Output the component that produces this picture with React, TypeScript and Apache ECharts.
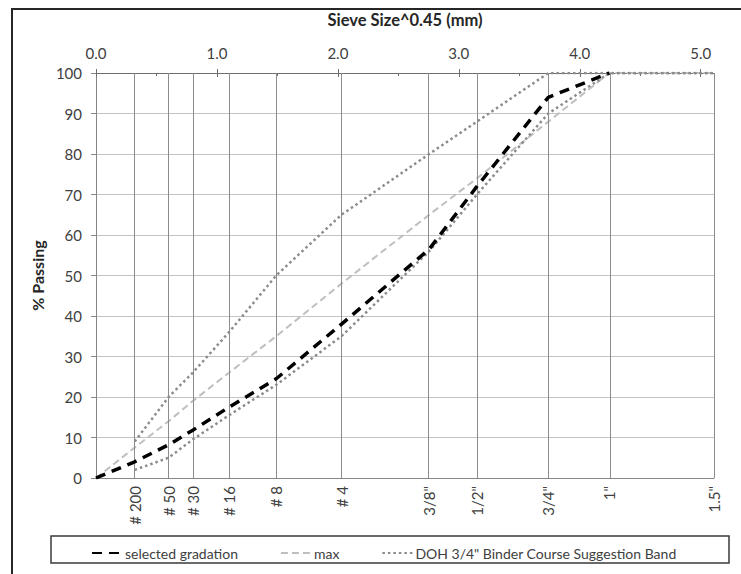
import React, { useEffect, useRef } from "react";
import * as echarts from "echarts";

// Sieve positions on the Sieve Size^0.45 scale, and their labels
const sieveLabels = ['# 200', '# 50', '# 30', '# 16', '# 8', '# 4', '3/8"', '1/2"', '3/4"', '1"', '1.5"'];
const sievePos = [0.32, 0.6, 0.8, 1.1, 1.49, 2.03, 2.755, 3.15, 3.74, 4.245, 5.11];

// Top axis tick labels
const topTicks = [0, 1, 2, 3, 4, 5];
const topMinorTicks = [0.5, 1.5, 2.5, 3.5, 4.5];

// Series values (% passing)
const originX = 0;
const selectedOrigin = 0;
const selectedValues = [4, 8.2, 11.8, 17.5, 24.5, 38, 56.5, 72, 94, 100];
const maxOrigin = 0;
const maxValues = [7.5, 14, 19, 26, 35, 48, 65, 74, 88, 100, 100];
const bandUpper = [9, 20, 26, 36, 50, 65, 80, 88, 100, 100, 100];
const bandLower = [2, 5, 9.5, 15.5, 23, 35, 56, 70, 90, 100, 100];

const SEL = "selected gradation";
const MAX = "max";
const BAND = 'DOH 3/4" Binder Course Suggestion Band';

const FONT = "Lato";

export default function App() {
  const ref = useRef<HTMLDivElement>(null);

  useEffect(() => {
    if (!ref.current) return;
    const chart = echarts.init(ref.current, undefined, { renderer: "svg" });

    const withOrigin = (ox: number, oy: number, vals: number[]) =>
      [[ox, oy] as number[]].concat(vals.map((v, i) => [sievePos[i], v]));
    const onSieves = (vals: number[]) => vals.map((v, i) => [sievePos[i], v]);

    const xMin = 0;
    const xMax = sievePos[sievePos.length - 1];

    const option: any = {
      animation: false,
      backgroundColor: "#ffffff",
      textStyle: { fontFamily: FONT },
      grid: { left: 96, right: 27, top: 73, bottom: 96, containLabel: false },
      legend: {
        data: [SEL, MAX, BAND],
        left: 86,
        top: 541,
        itemWidth: 30,
        itemHeight: 12,
        itemGap: 42,
        itemStyle: { opacity: 0 },
        textStyle: { fontFamily: FONT, fontSize: 14, color: "#404040", padding: [0, 0, 0, -2] },
        selectedMode: false,
      },
      graphic: [
        {
          type: "rect",
          shape: { x: 12, y: 9, width: 800, height: 700 },
          style: { fill: "none", stroke: "#262626", lineWidth: 2 },
          silent: true,
        },
        {
          type: "rect",
          shape: { x: 51, y: 536, width: 678, height: 27 },
          style: { fill: "none", stroke: "#3a3a3a", lineWidth: 1.5 },
          silent: true,
        },
      ],
      xAxis: [
        {
          type: "value",
          position: "bottom",
          min: xMin,
          max: xMax,
          axisLine: { show: true, lineStyle: { color: "#868686", width: 1 } },
          axisTick: { show: false },
          splitLine: { show: false },
          axisLabel: {
            customValues: sievePos,
            rotate: 90,
            margin: 8,
            interval: 0,
            hideOverlap: false,
            showMinLabel: true,
            showMaxLabel: true,
            fontFamily: FONT,
            fontSize: 15,
            color: "#404040",
            formatter: (v: number) => {
              const i = sievePos.findIndex((p) => Math.abs(p - v) < 1e-6);
              return i >= 0 ? sieveLabels[i] : "";
            },
          },
        },
        {
          type: "value",
          position: "top",
          min: xMin,
          max: xMax,
          name: "Sieve Size^0.45 (mm)",
          nameLocation: "middle",
          nameGap: 45,
          nameTextStyle: { fontFamily: FONT, fontSize: 16.5, fontWeight: "bold", color: "#262626" },
          axisLine: { show: true, lineStyle: { color: "#6e6e6e", width: 1 } },
          axisTick: { show: true, customValues: topTicks, length: 4, inside: false, lineStyle: { color: "#6e6e6e" } },
          splitLine: { show: false },
          axisLabel: {
            customValues: topTicks,
            margin: 13,
            fontFamily: FONT,
            fontSize: 15,
            color: "#404040",
            formatter: (v: number) => v.toFixed(1),
          },
        },
        {
          type: "value",
          position: "top",
          min: xMin,
          max: xMax,
          axisLine: { show: false },
          axisTick: { show: true, customValues: topTicks, length: 4, inside: true, lineStyle: { color: "#6e6e6e" } },
          axisLabel: { show: false },
          splitLine: { show: false },
        },
        {
          type: "value",
          position: "top",
          min: xMin,
          max: xMax,
          axisLine: { show: false },
          axisTick: { show: true, customValues: topMinorTicks, length: 3, inside: true, lineStyle: { color: "#6e6e6e" } },
          axisLabel: { show: false },
          splitLine: { show: false },
        },
      ],
      yAxis: {
        type: "value",
        min: 0,
        max: 100,
        interval: 10,
        name: "% Passing",
        nameLocation: "middle",
        nameGap: 45,
        nameTextStyle: { fontFamily: FONT, fontSize: 16, fontWeight: "bold", color: "#262626" },
        axisLine: { show: true, lineStyle: { color: "#868686", width: 1 } },
        axisTick: { show: true, length: 5, lineStyle: { color: "#868686" } },
        axisLabel: { margin: 14, fontFamily: FONT, fontSize: 15, color: "#404040" },
        splitLine: { show: true, lineStyle: { color: "#c4c4c4", width: 1 } },
      },
      series: [
        {
          name: "sieve-lines",
          type: "line",
          xAxisIndex: 0,
          data: [],
          symbol: "none",
          silent: true,
          markLine: {
            silent: true,
            symbol: ["none", "none"],
            label: { show: false },
            lineStyle: { color: "#8c8c8c", width: 1, type: "solid" },
            data: sievePos.map((p) => ({ xAxis: p })),
          },
        },
        {
          name: MAX,
          type: "line",
          xAxisIndex: 0,
          data: withOrigin(originX, maxOrigin, maxValues),
          symbol: "none",
          lineStyle: { color: "#bfbfbf", width: 2, type: [7, 4] },
          itemStyle: { color: "#bfbfbf" },
          z: 3,
        },
        {
          name: BAND,
          type: "line",
          xAxisIndex: 0,
          data: onSieves(bandUpper),
          symbol: "none",
          lineStyle: { color: "#8c8c8c", width: 2.5, type: [2.5, 3] },
          itemStyle: { color: "#8c8c8c" },
          z: 4,
        },
        {
          name: BAND,
          type: "line",
          xAxisIndex: 0,
          data: onSieves(bandLower),
          symbol: "none",
          lineStyle: { color: "#8c8c8c", width: 2.5, type: [2.5, 3] },
          itemStyle: { color: "#8c8c8c" },
          z: 4,
        },
        {
          name: SEL,
          type: "line",
          xAxisIndex: 0,
          data: withOrigin(originX, selectedOrigin, selectedValues),
          symbol: "none",
          lineStyle: { color: "#000000", width: 3.5, type: [10, 7] },
          itemStyle: { color: "#000000" },
          z: 5,
        },
      ],
    };

    chart.setOption(option);
    return () => {
      chart.dispose();
    };
  }, []);

  return (
    <div
      ref={ref}
      style={{ position: "absolute", left: 0, top: 0, width: 741, height: 574, background: "#fff" }}
    />
  );
}
